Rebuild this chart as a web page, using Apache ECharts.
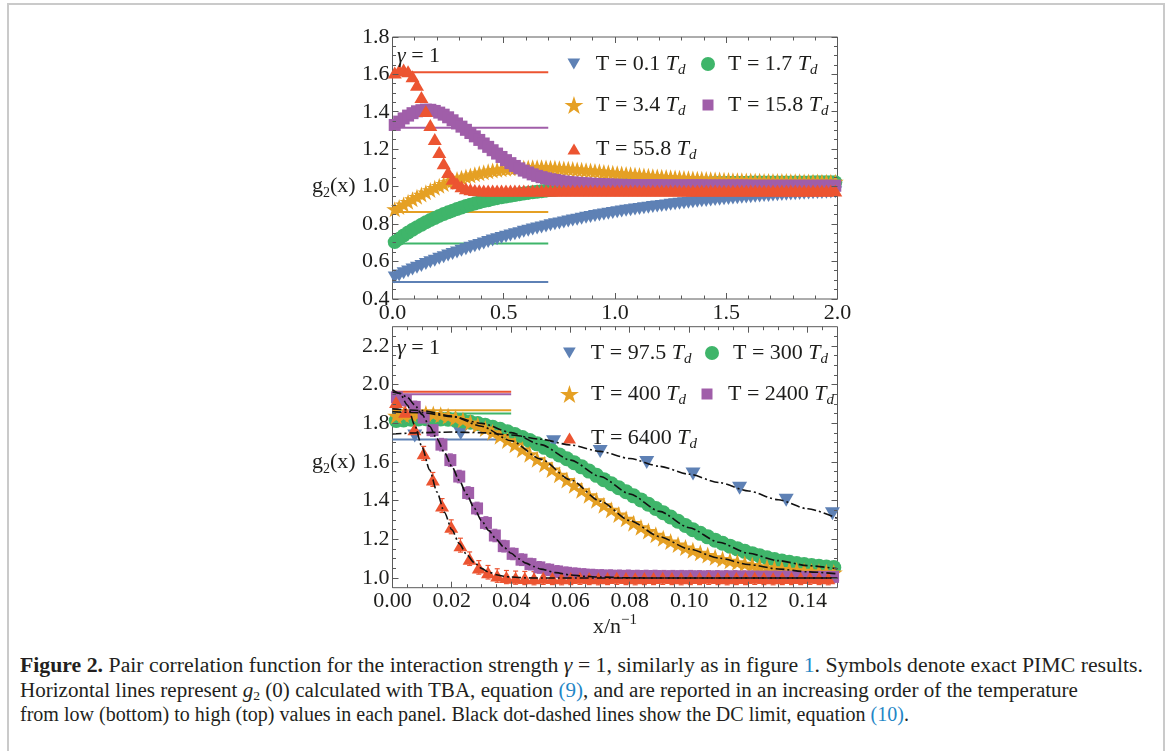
<!DOCTYPE html>
<html>
<head>
<meta charset="utf-8">
<script src="https://cdn.jsdelivr.net/npm/echarts@6/dist/echarts.min.js"></script>
<style>
  html, body { margin: 0; padding: 0; background: #fff; }
  #frame { position: absolute; left: 7px; top: 3px; width: 1158px; height: 800px;
           border: 2px solid #cacaca; border-bottom: none; box-sizing: border-box; }
  #chart { position: absolute; left: 0; top: 0; width: 1167px; height: 645px; }
  #caption { position: absolute; left: 20px; top: 653px; font-family: 'Liberation Serif', 'DejaVu Serif', serif;
             font-size: 20px; color: #231f20; line-height: 24.5px; }
  #caption .ln { display: block; height: 24.5px; white-space: nowrap; transform-origin: 0 0; width: max-content; }
  #caption .ref { color: #1f86c6; }
  #caption b { font-weight: bold; }
  #caption sub { font-size: 13px; line-height: 0; vertical-align: -0.2em; }
</style>
</head>
<body>
<div id="frame"></div>
<div id="chart"></div>
<div id="caption">
  <span class="ln" data-w="1123"><b>Figure 2.</b> Pair correlation function for the interaction strength <i>γ</i> = 1, similarly as in figure <span class="ref">1</span>. Symbols denote exact PIMC results.</span>
  <span class="ln" data-w="1058">Horizontal lines represent <i>g</i><sub>2</sub> (0) calculated with TBA, equation <span class="ref">(9)</span>, and are reported in an increasing order of the temperature</span>
  <span class="ln" data-w="889">from low (bottom) to high (top) values in each panel. Black dot-dashed lines show the DC limit, equation <span class="ref">(10)</span>.</span>
</div>
<script>
// ---------- temperatures (legend labels) ----------
const TOP_T = ['0.1', '1.7', '3.4', '15.8', '55.8'];
const BOT_T = ['97.5', '300', '400', '2400', '6400'];

// ---------- upper panel: g2(x) on a uniform x grid ----------
const TOP_X0 = 0.01, TOP_DX = 0.02;
const top_T01 = [
  0.515,0.526,0.537,0.547,0.557,0.567,0.577,0.587,0.596,0.605,
  0.615,0.623,0.632,0.641,0.649,0.658,0.666,0.674,0.682,0.689,
  0.697,0.704,0.712,0.719,0.726,0.733,0.739,0.746,0.752,0.759,
  0.765,0.771,0.777,0.782,0.788,0.794,0.799,0.804,0.809,0.814,
  0.819,0.824,0.829,0.834,0.838,0.843,0.847,0.851,0.855,0.859,
  0.863,0.867,0.871,0.874,0.878,0.881,0.885,0.888,0.891,0.894,
  0.897,0.900,0.903,0.906,0.909,0.912,0.914,0.917,0.919,0.922,
  0.924,0.926,0.929,0.931,0.933,0.935,0.937,0.939,0.941,0.943,
  0.944,0.946,0.948,0.950,0.951,0.953,0.954,0.956,0.957,0.959,
  0.960,0.961,0.962,0.964,0.965,0.966,0.967,0.968,0.969,0.970];
const top_T17 = [
  0.704,0.722,0.739,0.755,0.770,0.784,0.797,0.810,0.822,0.833,
  0.844,0.854,0.863,0.872,0.881,0.889,0.897,0.904,0.910,0.917,
  0.923,0.928,0.934,0.939,0.944,0.948,0.952,0.956,0.960,0.964,
  0.967,0.970,0.973,0.976,0.979,0.982,0.984,0.986,0.988,0.990,
  0.992,0.994,0.996,0.998,0.999,1.000,1.002,1.003,1.004,1.005,
  1.007,1.008,1.009,1.009,1.010,1.011,1.012,1.013,1.013,1.014,
  1.015,1.015,1.016,1.016,1.017,1.017,1.018,1.018,1.018,1.019,
  1.019,1.019,1.020,1.020,1.020,1.021,1.021,1.021,1.021,1.021,
  1.022,1.022,1.022,1.022,1.022,1.022,1.023,1.023,1.023,1.023,
  1.023,1.023,1.023,1.023,1.024,1.024,1.024,1.024,1.024,1.024];
const top_T34 = [
  0.880,0.892,0.905,0.919,0.933,0.946,0.958,0.970,0.982,0.994,
  1.005,1.015,1.025,1.033,1.041,1.048,1.054,1.060,1.066,1.072,
  1.077,1.082,1.087,1.090,1.093,1.096,1.098,1.100,1.101,1.102,
  1.103,1.104,1.104,1.104,1.103,1.102,1.101,1.099,1.097,1.096,
  1.094,1.092,1.090,1.088,1.086,1.084,1.082,1.079,1.077,1.074,
  1.072,1.070,1.068,1.066,1.064,1.062,1.060,1.058,1.056,1.055,
  1.053,1.052,1.050,1.049,1.048,1.046,1.045,1.044,1.043,1.042,
  1.041,1.040,1.039,1.038,1.037,1.036,1.035,1.035,1.034,1.033,
  1.033,1.032,1.032,1.031,1.031,1.031,1.030,1.030,1.030,1.029,
  1.029,1.029,1.028,1.028,1.028,1.028,1.027,1.027,1.027,1.027];
const top_T158 = [
  1.330,1.348,1.365,1.380,1.393,1.403,1.409,1.412,1.411,1.405,
  1.396,1.385,1.371,1.355,1.338,1.321,1.304,1.287,1.269,1.250,
  1.231,1.213,1.195,1.177,1.159,1.142,1.126,1.111,1.098,1.086,
  1.076,1.066,1.058,1.051,1.045,1.040,1.036,1.032,1.028,1.025,
  1.023,1.021,1.019,1.018,1.016,1.015,1.014,1.013,1.012,1.011,
  1.010,1.010,1.009,1.009,1.009,1.008,1.008,1.008,1.008,1.008,
  1.007,1.007,1.007,1.007,1.007,1.007,1.007,1.007,1.007,1.007,
  1.006,1.006,1.006,1.006,1.006,1.006,1.006,1.006,1.006,1.006,
  1.005,1.005,1.005,1.005,1.005,1.005,1.005,1.005,1.005,1.005,
  1.005,1.005,1.005,1.005,1.005,1.005,1.005,1.005,1.005,1.005];
const top_T558 = [
  1.610,1.622,1.626,1.617,1.590,1.545,1.480,1.405,1.330,1.255,
  1.185,1.125,1.078,1.042,1.018,1.002,0.992,0.986,0.983,0.981,
  0.980,0.980,0.980,0.980,0.980,0.980,0.980,0.980,0.980,0.980,
  0.980,0.980,0.980,0.980,0.980,0.980,0.980,0.980,0.980,0.980,
  0.980,0.980,0.980,0.980,0.980,0.980,0.980,0.980,0.980,0.980,
  0.980,0.980,0.980,0.980,0.980,0.980,0.980,0.980,0.980,0.980,
  0.980,0.980,0.980,0.980,0.980,0.980,0.980,0.980,0.980,0.980,
  0.980,0.980,0.980,0.980,0.980,0.980,0.980,0.980,0.980,0.980,
  0.980,0.980,0.980,0.980,0.980,0.980,0.980,0.980,0.980,0.980,
  0.980,0.980,0.980,0.980,0.980,0.980,0.980,0.980,0.980,0.980];
// TBA values of g2(0), drawn as horizontal segments from x = 0 to TOP_TBA_END
const TOP_TBA = [0.491, 0.696, 0.865, 1.315, 1.611];
const TOP_TBA_END = 0.7;

// ---------- lower panel ----------
// T = 97.5 Td : sparse points [x, g2]
const bot_T975 = [[0.0075,1.735],[0.0230,1.748],[0.0388,1.742],[0.0543,1.705],[0.0700,1.655],
                  [0.0857,1.598],[0.1013,1.538],[0.1170,1.465],[0.1327,1.402],[0.1483,1.332]];
// T = 300 Td and 400 Td on a uniform grid
const BOT_GO_X0 = 0.00125, BOT_GO_DX = 0.0025;
const bot_T300 = [
  1.815,1.818,1.821,1.823,1.824,1.824,1.823,1.821,1.817,1.812,
  1.806,1.799,1.790,1.780,1.769,1.756,1.742,1.727,1.711,1.694,
  1.676,1.657,1.637,1.617,1.596,1.575,1.553,1.531,1.509,1.488,
  1.467,1.446,1.425,1.404,1.382,1.360,1.338,1.316,1.294,1.272,
  1.250,1.231,1.213,1.196,1.180,1.165,1.151,1.138,1.126,1.115,
  1.105,1.096,1.088,1.081,1.075,1.070,1.065,1.061,1.057,1.054];
const bot_T400 = [
  1.840,1.845,1.849,1.851,1.851,1.849,1.845,1.838,1.829,1.818,
  1.805,1.790,1.773,1.754,1.734,1.712,1.689,1.665,1.640,1.614,
  1.588,1.561,1.534,1.507,1.480,1.454,1.428,1.402,1.377,1.353,
  1.329,1.306,1.284,1.263,1.243,1.224,1.206,1.189,1.173,1.158,
  1.144,1.131,1.119,1.108,1.098,1.089,1.081,1.074,1.067,1.061,
  1.056,1.051,1.047,1.043,1.040,1.037,1.034,1.032,1.030,1.028];
// T = 2400 Td on its own grid, with statistical error bars
const BOT_P_X0 = 0.0015, BOT_P_DX = 0.003;
const bot_T2400 = [
  1.935,1.920,1.885,1.830,1.765,1.690,1.610,1.525,1.440,1.360,
  1.285,1.220,1.165,1.125,1.095,1.072,1.055,1.043,1.034,1.027,
  1.022,1.018,1.015,1.013,1.012,1.011,1.011,1.010,1.010,1.010,
  1.009,1.009,1.009,1.009,1.008,1.008,1.008,1.008,1.008,1.007,
  1.007,1.007,1.007,1.007,1.007,1.006,1.006,1.006,1.006,1.006];
const err_T2400 = [
  0.030,0.030,0.030,0.032,0.032,0.032,0.032,0.032,0.032,0.032,
  0.032,0.032,0.030,0.030,0.030,0.030,0.030,0.030,0.030,0.030,
  0.030,0.030,0.030,0.030,0.030,0.030,0.030,0.030,0.030,0.030,
  0.030,0.030,0.030,0.030,0.030,0.030,0.030,0.030,0.030,0.030,
  0.030,0.030,0.030,0.030,0.030,0.030,0.030,0.030,0.030,0.030];
// T = 6400 Td
const BOT_R_X0 = 0.0012, BOT_R_DX = 0.0031;
const bot_T6400 = [
  1.910,1.860,1.770,1.645,1.510,1.375,1.265,1.170,1.100,1.055,
  1.030,1.013,1.005,1.002,1.000,0.999,1.001,1.000,0.999,1.000,
  1.001,1.000,0.999,1.000,1.001,1.000,0.999,1.000,1.000,1.001,
  1.000,0.999,1.000,1.000,1.001,1.000,0.999,1.000,1.000,1.001,
  1.000,0.999,1.000,1.000,1.000,1.001,1.000,0.999];
const err_T6400 = [
  0.035,0.035,0.035,0.036,0.036,0.036,0.036,0.036,0.035,0.035,
  0.035,0.035,0.034,0.034,0.034,0.034,0.034,0.034,0.034,0.034,
  0.034,0.034,0.034,0.034,0.034,0.034,0.034,0.034,0.034,0.034,
  0.034,0.034,0.034,0.034,0.034,0.034,0.034,0.034,0.034,0.034,
  0.034,0.034,0.034,0.034,0.034,0.034,0.034,0.034];
const BOT_TBA = [1.717, 1.851, 1.868, 1.950, 1.964];
const BOT_TBA_END = 0.04;
// DC limit curves [x, g2]
const dc_T975 = [[0,1.745],[0.01,1.752],[0.02,1.755],[0.03,1.752],[0.04,1.740],[0.05,1.718],[0.06,1.688],
  [0.07,1.655],[0.08,1.618],[0.09,1.578],[0.10,1.537],[0.11,1.494],[0.12,1.450],[0.13,1.405],[0.14,1.358],[0.15,1.308]];
const dc_T300 = [[0,1.860],[0.01,1.855],[0.02,1.835],[0.03,1.800],[0.04,1.752],[0.05,1.690],[0.06,1.610],
  [0.07,1.525],[0.08,1.435],[0.09,1.345],[0.10,1.260],[0.11,1.185],[0.12,1.128],[0.13,1.090],[0.14,1.064],[0.15,1.048]];
const dc_T400 = [[0,1.875],[0.01,1.866],[0.02,1.838],[0.03,1.785],[0.04,1.710],[0.05,1.615],[0.06,1.508],
  [0.07,1.398],[0.08,1.297],[0.09,1.214],[0.10,1.150],[0.11,1.103],[0.12,1.070],[0.13,1.047],[0.14,1.032],[0.15,1.022]];
const dc_T2400 = [[0,1.962],[0.0025,1.955],[0.005,1.935],[0.0075,1.895],[0.01,1.845],[0.0125,1.785],[0.015,1.720],
  [0.0175,1.650],[0.02,1.578],[0.0225,1.505],[0.025,1.433],[0.0275,1.363],[0.03,1.297],[0.0325,1.245],[0.035,1.200],
  [0.0375,1.160],[0.04,1.128],[0.0425,1.100],[0.045,1.077],[0.0475,1.060],[0.05,1.046],[0.055,1.028],[0.06,1.016],
  [0.065,1.009],[0.07,1.005],[0.08,1.001],[0.09,1.000],[0.15,1.000]];
const dc_T6400 = [[0,1.975],[0.0025,1.955],[0.005,1.895],[0.0075,1.790],[0.01,1.675],[0.0125,1.560],[0.015,1.445],
  [0.0175,1.340],[0.02,1.250],[0.0225,1.178],[0.025,1.122],[0.0275,1.080],[0.03,1.050],[0.0325,1.030],[0.035,1.017],
  [0.0375,1.009],[0.04,1.005],[0.045,1.001],[0.05,1.000],[0.15,1.000]];

// ---------- axis ticks ----------
const TOP_X_MAJOR = [0, 0.5, 1.0, 1.5, 2.0];
const TOP_X_MINOR = [0.1,0.2,0.3,0.4,0.6,0.7,0.8,0.9,1.1,1.2,1.3,1.4,1.6,1.7,1.8,1.9];
const TOP_Y_MAJOR = [0.4,0.6,0.8,1.0,1.2,1.4,1.6,1.8];
const TOP_Y_MINOR = [0.45,0.5,0.55,0.65,0.7,0.75,0.85,0.9,0.95,1.05,1.1,1.15,1.25,1.3,1.35,1.45,1.5,1.55,1.65,1.7,1.75];
const BOT_X_MAJOR = [0,0.02,0.04,0.06,0.08,0.10,0.12,0.14];
const BOT_X_MINOR = [0.005,0.01,0.015,0.025,0.03,0.035,0.045,0.05,0.055,0.065,0.07,0.075,0.085,0.09,0.095,
                     0.105,0.11,0.115,0.125,0.13,0.135,0.145];
const BOT_Y_MAJOR = [1.0,1.2,1.4,1.6,1.8,2.0,2.2];
const BOT_Y_MINOR = [1.05,1.1,1.15,1.25,1.3,1.35,1.45,1.5,1.55,1.65,1.7,1.75,1.85,1.9,1.95,2.05,2.1,2.15,2.25];

// ---------- styling ----------
const FONT = "'Liberation Serif', 'DejaVu Serif', serif";
const FS = 22;
const TXT = '#1d1d1b';
const FRAME = '#5a5a5a';
const C = ['#5e81b5', '#3fb56a', '#e5a024', '#a05ea9', '#ec5431'];
const TRI_DOWN = 'path://M0,0L10,0L5,8.66Z';
const STAR = 'path://M50,0L61.23,34.55L97.55,34.55L68.17,55.9L79.39,90.45L50,69.1L20.61,90.45L31.83,55.9L2.45,34.55L38.77,34.55Z';
const SYMBOLS = [TRI_DOWN, 'circle', STAR, 'rect', 'triangle'];

const GRIDS = [
  { left: 392.5, top: 37, width: 445, height: 262 },
  { left: 392.5, top: 326.7, width: 445, height: 261 }
];
const RANGES = [
  { x: [0, 2], y: [0.4, 1.8], xt: [TOP_X_MAJOR, TOP_X_MINOR], yt: [TOP_Y_MAJOR, TOP_Y_MINOR] },
  { x: [0, 0.15], y: [0.95, 2.3], xt: [BOT_X_MAJOR, BOT_X_MINOR], yt: [BOT_Y_MAJOR, BOT_Y_MINOR] }
];

const grid = GRIDS.map(g => Object.assign({ show: true, borderColor: FRAME, borderWidth: 1,
  backgroundColor: 'transparent', containLabel: false, outerBoundsMode: 'none' }, g));

const f1 = v => v.toFixed(1), f2 = v => v.toFixed(2);
const FMT_X = [f1, f2];
const xAxis = RANGES.map((r, p) => ({ gridIndex: p, type: 'value', position: 'bottom', min: r.x[0], max: r.x[1],
  axisLine: { show: false }, axisTick: { show: false }, splitLine: { show: false },
  axisLabel: { customValues: r.xt[0], formatter: FMT_X[p], margin: 3, fontFamily: FONT, fontSize: FS, color: TXT } }));
const yAxis = RANGES.map((r, p) => ({ gridIndex: p, type: 'value', position: 'left', min: r.y[0], max: r.y[1],
  axisLine: { show: false }, axisTick: { show: false }, splitLine: { show: false },
  axisLabel: { customValues: r.yt[0], formatter: f1, margin: 3, fontFamily: FONT, fontSize: FS, color: TXT } }));

const gridPts = (x0, dx, vals) => vals.map((v, i) => [+(x0 + i * dx).toFixed(5), v]);
const seriesName = t => 'T = ' + t + ' Td';

const series = [];

// frame ticks, pointing inwards on all four sides: [x, y, dx(px), dy(px)]
const MAJ = 6, MIN = 3.5;
RANGES.forEach((r, p) => {
  const d = [];
  [[r.xt[0], MAJ], [r.xt[1], MIN]].forEach(([vals, len]) => vals.forEach(v => {
    d.push([v, r.y[0], 0, -len]); d.push([v, r.y[1], 0, len]);
  }));
  [[r.yt[0], MAJ], [r.yt[1], MIN]].forEach(([vals, len]) => vals.forEach(v => {
    d.push([r.x[0], v, len, 0]); d.push([r.x[1], v, -len, 0]);
  }));
  series.push({ type: 'custom', xAxisIndex: p, yAxisIndex: p, data: d, clip: false, silent: true, z: 6,
    encode: { x: 0, y: 1 },
    renderItem(params, api) {
      const pt = api.coord([api.value(0), api.value(1)]);
      const dx = api.value(2), dy = api.value(3);
      const x = dx === 0 ? Math.round(pt[0] - 0.5) + 0.5 : pt[0];
      const y = dy === 0 ? Math.round(pt[1] - 0.5) + 0.5 : pt[1];
      return { type: 'line', shape: { x1: x, y1: y, x2: x + dx, y2: y + dy },
               style: { stroke: FRAME, lineWidth: 1 } };
    } });
});

function hline(p, v, end, color) {
  series.push({ type: 'line', xAxisIndex: p, yAxisIndex: p, data: [[0, v], [end, v]],
    symbol: 'none', silent: true, lineStyle: { color, width: 2 }, z: 2 });
}
function scatter(p, k, name, data, size) {
  series.push({ type: 'scatter', name, xAxisIndex: p, yAxisIndex: p, data,
    symbol: SYMBOLS[k], symbolSize: size, itemStyle: { color: C[k], opacity: 1 }, silent: true, z: 3 });
}
// vertical error bars with small caps: data items [x, y, err]
function errorBars(p, k, data) {
  series.push({ type: 'custom', xAxisIndex: p, yAxisIndex: p, data, silent: true, z: 3,
    encode: { x: 0, y: 1 },
    renderItem(params, api) {
      const x = api.value(0), y = api.value(1), e = api.value(2);
      const hi = api.coord([x, y + e]), lo = api.coord([x, y - e]);
      const st = { stroke: C[k], lineWidth: 1.2 };
      return { type: 'group', children: [
        { type: 'line', shape: { x1: hi[0], y1: hi[1], x2: lo[0], y2: lo[1] }, style: st },
        { type: 'line', shape: { x1: hi[0] - 2.5, y1: hi[1], x2: hi[0] + 2.5, y2: hi[1] }, style: st },
        { type: 'line', shape: { x1: lo[0] - 2.5, y1: lo[1], x2: lo[0] + 2.5, y2: lo[1] }, style: st }
      ] };
    } });
}
function dcLine(data) {
  series.push({ type: 'line', xAxisIndex: 1, yAxisIndex: 1, data, symbol: 'none', silent: true,
    smooth: 0.25, smoothMonotone: 'x', lineStyle: { color: '#111', width: 1.6, type: [9, 3, 2, 3] }, z: 4 });
}

// upper panel
TOP_TBA.forEach((v, k) => hline(0, v, TOP_TBA_END, C[k]));
const topVals = [top_T01, top_T17, top_T34, top_T158, top_T558];
const topSizes = [[14, 12], 14, [17, 16], 12, [14, 12]];
topVals.forEach((vals, k) => scatter(0, k, seriesName(TOP_T[k]), gridPts(TOP_X0, TOP_DX, vals), topSizes[k]));

// lower panel
BOT_TBA.forEach((v, k) => hline(1, v, BOT_TBA_END, C[k]));
const botData = [
  bot_T975,
  gridPts(BOT_GO_X0, BOT_GO_DX, bot_T300),
  gridPts(BOT_GO_X0, BOT_GO_DX, bot_T400),
  gridPts(BOT_P_X0, BOT_P_DX, bot_T2400),
  gridPts(BOT_R_X0, BOT_R_DX, bot_T6400)
];
const withErr = (pts, err) => pts.map((pt, i) => [pt[0], pt[1], err[i]]);
const botSizes = [[15, 13], 15, [18, 17], 12, [14, 12]];
botData.forEach((d, k) => {
  if (k === 3) errorBars(1, 3, withErr(d, err_T2400));
  if (k === 4) errorBars(1, 4, withErr(d, err_T6400));
  scatter(1, k, seriesName(BOT_T[k]), d, botSizes[k]);
});
[dc_T975, dc_T300, dc_T400, dc_T2400, dc_T6400].forEach(dcLine);

// ---------- legends ----------
const LEG_RICH = {
  a: { fontFamily: FONT, fontSize: FS, lineHeight: 28, color: TXT },
  i: { fontFamily: FONT, fontSize: FS, lineHeight: 28, fontStyle: 'italic', color: TXT },
  d: { fontFamily: FONT, fontSize: 15, lineHeight: 15, fontStyle: 'italic', color: TXT, verticalAlign: 'bottom' }
};
const legFmt = name => '{a|' + name.slice(0, -2) + '}{i|T}{d|d}';
const legends = [];
function legendItem(name, k, iw, ih, cx, cy, textLeft) {
  legends.push({
    data: [{ name, icon: SYMBOLS[k] }], left: cx - iw / 2, top: cy - 14, orient: 'horizontal',
    itemWidth: iw, itemHeight: ih, padding: 0, selectedMode: false, formatter: legFmt,
    itemStyle: { color: C[k] },
    textStyle: { rich: LEG_RICH, padding: [0, 0, 0, textLeft - (cx + iw / 2 + 5)] }
  });
}
const LEG_ICON = [[13, 11], [14, 14], [19, 18], [11, 11], [13, 11]];
const TOP_LEG = [[574, 67, 596], [708, 67, 728], [574, 108, 596], [708, 108, 728], [574, 152, 596]];
const BOT_LEG = [[569.5, 356, 591], [712, 356, 733], [569.5, 397, 591], [707, 397, 728], [569.5, 441, 591]];
TOP_LEG.forEach((p, k) => legendItem(seriesName(TOP_T[k]), k, LEG_ICON[k][0], LEG_ICON[k][1], p[0], p[1], p[2]));
BOT_LEG.forEach((p, k) => legendItem(seriesName(BOT_T[k]), k, LEG_ICON[k][0], LEG_ICON[k][1], p[0], p[1], p[2]));

// ---------- free text ----------
const M = { fontFamily: FONT, fontSize: FS, lineHeight: 28, fill: TXT };
const G = { fontFamily: FONT, fontSize: FS, lineHeight: 28, fill: TXT, fontStyle: 'italic' };
const SUB = { fontFamily: FONT, fontSize: 14, lineHeight: 14, fill: TXT, verticalAlign: 'bottom' };
const SUP = { fontFamily: FONT, fontSize: 15, lineHeight: 15, fill: TXT, verticalAlign: 'top' };
function txt(x, y, text, rich, align) {
  return { type: 'text', x, y, silent: true, z: 10,
           style: { text, rich, align: align || 'left', verticalAlign: 'middle' } };
}
const graphic = [
  txt(397, 56, '{g|γ}{m| = 1}', { g: G, m: M }),
  txt(397, 348, '{g|γ}{m| = 1}', { g: G, m: M }),
  txt(312, 186, '{m|g}{s|2}{m|(x)}', { m: M, s: SUB }),
  txt(312, 462, '{m|g}{s|2}{m|(x)}', { m: M, s: SUB }),
  txt(615, 627, '{m|x/n}{s|−1}', { m: M, s: SUP }, 'center')
];

const chart = echarts.init(document.getElementById('chart'), null, { renderer: 'canvas' });
chart.setOption({
  animation: false,
  backgroundColor: 'transparent',
  grid, xAxis, yAxis, series, legend: legends, graphic
});

// caption lines are fitted to their set widths
document.querySelectorAll('#caption .ln').forEach(el => {
  const w = el.getBoundingClientRect().width;
  const target = +el.dataset.w;
  el.style.transform = 'scaleX(' + (target / w).toFixed(4) + ')';
});
</script>
</body>
</html>
